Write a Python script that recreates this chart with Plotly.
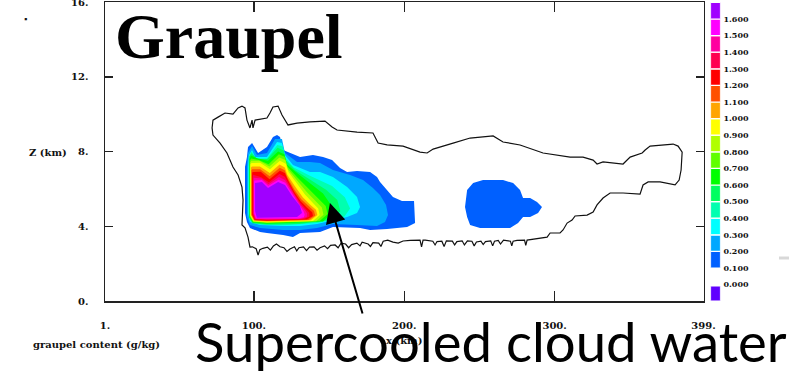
import plotly.graph_objects as go

# ---------------- data ----------------
# colour-bar levels (g/kg) and their tick labels
level_values = [0.0, 0.1, 0.2, 0.3, 0.4, 0.5, 0.6, 0.7, 0.8, 0.9, 1.0, 1.1, 1.2, 1.3, 1.4, 1.5, 1.6]
level_labels = ["0.000", "0.100", "0.200", "0.300", "0.400", "0.500", "0.600", "0.700", "0.800",
                "0.900", "1.000", "1.100", "1.200", "1.300", "1.400", "1.500", "1.600"]

x_tick_vals = [1, 100, 200, 300, 399]
x_tick_text = ["1.", "100.", "200.", "300.", "399."]
z_tick_vals = [0, 4, 8, 12, 16]
z_tick_text = ["0.", "4.", "8.", "12.", "16."]

# filled contour regions (x, z in km) -- one polygon per level
g010_x = [98.8, 100.8, 102.8, 108.7, 112.7, 115.4, 117.4, 119.4, 124.0, 130.7, 139.3, 146.0, 152.0, 157.3,
          162.0, 168.6, 177.3, 181.9, 183.9, 188.6, 192.5, 198.5, 206.5, 207.2, 201.9, 188.6, 177.3, 170.6,
          152.6, 144.0, 130.7, 126.0, 119.4, 108.7, 104.1, 97.4, 95.4, 94.1, 94.1, 95.4, 96.1]
g010_z = [8.45, 8.19, 7.92, 8.24, 8.77, 8.88, 8.77, 8.08, 7.92, 7.70, 7.81, 7.70, 7.54, 7.12,
          6.90, 6.96, 6.90, 6.63, 6.37, 5.94, 5.56, 5.35, 5.35, 4.17, 3.96, 3.85, 3.80, 3.91,
          3.96, 3.69, 3.64, 3.42, 3.53, 3.64, 3.69, 3.91, 4.23, 4.71, 7.17, 7.70, 8.24]
g010b_x = [240.4, 241.8, 245.8, 252.4, 265.7, 272.4, 277.0, 279.0, 283.7, 288.3, 291.6, 289.0, 283.7,
           279.0, 275.7, 270.4, 250.4, 243.8, 241.8]
g010b_z = [5.03, 5.94, 6.31, 6.47, 6.47, 6.31, 5.94, 5.51, 5.51, 5.30, 5.03, 4.71, 4.49,
           4.49, 4.17, 3.91, 3.91, 4.07, 4.49]
g020_x = [98.8, 102.1, 108.7, 114.1, 118.7, 120.7, 128.7, 137.3, 144.0, 152.6, 164.0, 172.6, 179.2, 183.9,
          187.9, 189.2, 187.2, 181.9, 168.6, 152.6, 142.0, 130.7, 119.4, 104.1, 97.4, 95.4, 95.4, 96.1]
g020_z = [8.29, 7.81, 7.92, 8.67, 8.67, 7.92, 7.44, 7.44, 7.38, 7.01, 6.74, 6.47, 6.05, 5.67,
          5.14, 4.60, 4.23, 4.01, 4.07, 4.12, 3.91, 3.80, 3.80, 3.91, 4.07, 4.49, 7.17, 7.92]
g030_x = [98.8, 100.8, 108.7, 115.4, 118.7, 120.7, 126.0, 137.3, 144.0, 152.6, 162.0, 168.6, 170.6, 168.6,
          162.0, 152.6, 142.0, 130.7, 119.4, 104.1, 97.4, 96.1, 96.1, 96.8]
g030_z = [8.08, 7.70, 7.70, 8.51, 8.45, 7.81, 7.28, 6.90, 6.90, 6.63, 6.10, 5.56, 5.03, 4.71,
          4.49, 4.33, 4.12, 4.01, 4.01, 4.07, 4.23, 4.71, 7.17, 7.81]
g040_x = [98.5, 101.6, 108.8, 115.6, 119.2, 121.0, 126.5, 137.3, 152.0, 160.5, 164.0, 160.0, 142.0, 119.4,
          104.1, 97.8, 96.5, 96.5]
g040_z = [8.00, 7.62, 7.62, 8.35, 8.28, 7.65, 7.15, 6.70, 6.15, 5.55, 4.95, 4.50, 4.18, 4.05,
          4.10, 4.30, 4.71, 7.70]
g050_x = [98.3, 102.2, 109.0, 115.8, 119.8, 121.5, 127.5, 137.3, 148.0, 155.5, 157.5, 151.0, 130.0, 108.7,
          99.0, 96.8, 96.8]
g050_z = [7.90, 7.60, 7.60, 8.20, 8.05, 7.50, 7.00, 6.50, 5.95, 5.40, 4.80, 4.35, 4.12, 4.10,
          4.16, 4.45, 7.70]
g060_x = [98.0, 102.8, 109.4, 116.1, 120.3, 122.0, 128.7, 137.3, 146.0, 150.7, 152.0, 146.0, 108.7, 99.4, 97.1, 97.1]
g060_z = [7.78, 7.62, 7.50, 8.00, 7.85, 7.30, 6.85, 6.30, 5.75, 5.20, 4.71, 4.25, 4.14, 4.20, 4.48, 7.60]
g070_x = [98.2, 103.2, 109.8, 116.6, 120.5, 122.3, 128.8, 136.0, 143.0, 147.8, 149.0, 143.8, 108.7, 99.5, 97.3, 97.3]
g070_z = [7.62, 7.55, 7.32, 7.85, 7.72, 7.20, 6.62, 6.05, 5.50, 5.08, 4.66, 4.28, 4.18, 4.23, 4.52, 7.50]
g080_x = [98.3, 103.7, 110.3, 117.0, 120.9, 122.7, 128.8, 135.0, 141.0, 145.2, 146.3, 141.5, 108.7, 99.7, 97.5, 97.5]
g080_z = [7.50, 7.50, 7.20, 7.68, 7.55, 7.05, 6.45, 5.85, 5.35, 5.00, 4.62, 4.27, 4.20, 4.25, 4.55, 7.40]
g090_x = [98.4, 104.1, 110.7, 117.3, 121.2, 123.0, 128.5, 134.0, 139.3, 142.8, 143.8, 139.3, 108.7, 99.9, 97.7, 97.7]
g090_z = [7.38, 7.40, 7.05, 7.50, 7.35, 6.90, 6.30, 5.70, 5.25, 4.95, 4.60, 4.28, 4.22, 4.27, 4.58, 7.30]
g100_x = [98.7, 104.0, 110.6, 117.1, 120.6, 122.2, 127.2, 132.5, 137.5, 141.3, 142.2, 137.8, 108.7, 100.1, 98.1, 98.1]
g100_z = [7.20, 7.20, 6.85, 7.30, 7.15, 6.75, 6.15, 5.55, 5.15, 4.88, 4.60, 4.32, 4.26, 4.30, 4.60, 7.15]
g110_x = [98.9, 104.2, 110.5, 117.2, 120.5, 122.4, 126.7, 131.5, 136.3, 140.0, 140.8, 136.5, 108.7, 100.3, 98.4, 98.4]
g110_z = [7.05, 7.05, 6.68, 7.13, 7.00, 6.60, 6.00, 5.45, 5.10, 4.82, 4.58, 4.34, 4.28, 4.32, 4.60, 7.00]
g120_x = [99.2, 104.6, 110.4, 117.3, 120.6, 122.8, 126.8, 131.0, 135.3, 138.8, 139.3, 135.3, 108.7, 100.5, 98.8, 98.8]
g120_z = [6.90, 6.92, 6.52, 6.97, 6.85, 6.45, 5.85, 5.35, 5.00, 4.75, 4.55, 4.36, 4.30, 4.34, 4.62, 6.85]
g130_x = [99.7, 104.9, 110.0, 117.0, 120.6, 123.4, 127.2, 131.0, 134.5, 136.8, 136.9, 133.0, 108.7, 100.6, 99.4, 99.4]
g130_z = [6.75, 6.62, 6.36, 6.80, 6.65, 6.25, 5.70, 5.25, 4.93, 4.72, 4.52, 4.37, 4.34, 4.37, 4.65, 6.70]
g140_x = [100.0, 105.1, 109.7, 116.7, 120.7, 124.0, 127.8, 131.0, 133.8, 135.4, 135.2, 131.0, 108.7, 101.0, 99.8, 99.8]
g140_z = [6.60, 6.55, 6.25, 6.63, 6.48, 6.05, 5.55, 5.15, 4.88, 4.68, 4.50, 4.39, 4.37, 4.40, 4.68, 6.55]
g150_x = [100.3, 105.3, 109.5, 116.4, 120.8, 124.6, 128.3, 131.0, 133.0, 133.8, 133.2, 129.5, 108.7, 101.4, 100.1, 100.1]
g150_z = [6.45, 6.47, 6.15, 6.49, 6.33, 5.85, 5.40, 5.05, 4.80, 4.62, 4.48, 4.42, 4.40, 4.42, 4.70, 6.40]
g160_x = [100.8, 105.4, 109.4, 116.1, 120.7, 125.4, 130.7, 132.0, 128.7, 108.7, 102.0, 100.8]
g160_z = [6.31, 6.37, 6.05, 6.37, 6.21, 5.62, 5.08, 4.71, 4.49, 4.44, 4.46, 4.82]

# cloud outline (black contour): upper part, right end, ragged base, left side
cloud_x = [72.2, 72.8, 76.2, 80.8, 86.1, 89.5, 92.1, 94.1, 95.4, 97.4, 98.8, 99.4, 100.8, 108.7, 110.7,
           112.7, 116.1, 118.7, 122.7, 128.7, 137.3, 147.3, 152.0, 155.3, 168.6, 179.2, 182.6, 188.6,
           199.2, 210.5, 215.2, 219.2, 232.5, 243.8, 259.1, 265.7, 277.0, 292.3, 310.3, 318.9, 325.6,
           328.2, 332.2, 345.5, 350.2, 358.2, 360.2, 363.5, 378.8, 382.1, 384.8, 384.1, 382.8, 380.1,
           370.1, 362.2, 358.8, 356.8, 345.5, 336.9, 332.2, 328.2, 325.6, 321.6, 313.6, 311.6, 308.3,
           305.6, 303.6, 297.0, 295.0, 290.3,
           284.0, 281.7, 280.8, 280.0, 275.0, 272.4, 271.5, 270.6, 266.0, 264.0, 262.5, 260.0, 258.8,
           257.5, 254.0, 252.5, 251.0, 248.0, 246.5, 245.0, 242.0, 240.0, 238.5, 235.0, 233.5, 232.0,
           228.0, 226.5, 225.0, 221.8, 220.5, 219.0, 214.0, 212.5, 211.5, 210.5, 204.0, 199.2, 196.0,
           192.5, 189.0, 186.0, 184.5, 183.0, 179.2, 177.5, 176.0, 172.0, 170.6, 168.5, 165.0, 163.0,
           161.0, 158.0, 156.0, 154.0, 151.0, 149.0, 147.0, 144.0, 142.0, 140.0, 137.0, 135.0, 133.0,
           130.0, 128.5, 127.0, 124.0, 122.0, 120.0, 117.4, 115.0, 113.0, 111.0, 109.0, 106.0, 104.0,
           102.8, 101.5, 99.0, 97.4,
           96.1, 94.1, 92.1, 92.8, 92.1, 89.5, 86.1, 82.1, 77.5, 72.8, 72.2]
cloud_z = [9.26, 9.68, 9.84, 10.06, 10.00, 10.33, 10.43, 10.33, 9.68, 9.26, 9.68, 9.26, 9.68, 9.79, 10.06,
           10.38, 10.43, 9.95, 9.42, 9.52, 9.58, 9.63, 9.31, 9.15, 9.04, 8.99, 8.45, 8.35,
           8.29, 7.97, 7.92, 8.13, 8.45, 8.72, 8.83, 8.51, 8.35, 7.92, 7.70, 7.70, 7.54,
           7.33, 7.44, 7.33, 7.70, 7.92, 8.08, 8.29, 8.40, 8.29, 7.97, 7.01, 6.47, 6.21,
           6.37, 6.37, 6.21, 5.72, 5.78, 5.78, 5.51, 5.14, 4.76, 4.60, 4.55, 4.33, 4.17,
           3.80, 3.64, 3.64, 3.42, 3.37,
           3.30, 3.26, 2.98, 3.26, 3.24, 3.20, 2.95, 3.20, 3.26, 3.05, 3.24, 3.20, 2.95,
           3.22, 3.18, 3.02, 3.20, 3.16, 2.95, 3.20, 3.22, 3.00, 3.22, 3.18, 3.00, 3.20,
           3.22, 2.92, 3.20, 3.18, 3.00, 3.20, 3.26, 3.26, 2.90, 3.26, 3.24, 3.21, 3.10,
           3.15, 3.26, 3.20, 2.92, 3.10, 3.12, 2.92, 3.05, 3.15, 2.95, 3.10, 3.02, 2.85,
           3.05, 3.10, 2.85, 3.00, 2.98, 2.80, 2.95, 2.85, 2.72, 2.90, 2.88, 2.70, 2.90,
           2.85, 2.68, 2.90, 2.78, 2.65, 2.85, 2.90, 3.05, 2.95, 2.72, 2.88, 2.82, 2.75,
           2.46, 2.80, 2.90, 2.89,
           3.42, 3.91, 4.07, 5.40, 6.10, 6.74, 7.17, 7.92, 8.45, 8.88, 9.26]

# arrow tip (x, z) pointing at the supercooled-water region
arrow_tip_x = 150.6
arrow_tip_z = 5.24

# ---------------- styles ----------------
band_colors = ["#6000FF", "#0060FF", "#00A8FF", "#00FFFF", "#00FFB0", "#00FF60", "#00FF00", "#60FF00",
               "#B0FF00", "#FFFF00", "#FFA500", "#FF5000", "#FF0000", "#FF0050", "#FF00A0", "#FF00FF", "#A000FF"]
SMALL = dict(family="DejaVu Serif", size=10, color="#111", weight="bold")

fig = go.Figure()

polys = [(g010_x, g010_z, 1), (g010b_x, g010b_z, 1), (g020_x, g020_z, 2), (g030_x, g030_z, 3),
         (g040_x, g040_z, 4), (g050_x, g050_z, 5), (g060_x, g060_z, 6), (g070_x, g070_z, 7),
         (g080_x, g080_z, 8), (g090_x, g090_z, 9), (g100_x, g100_z, 10), (g110_x, g110_z, 11),
         (g120_x, g120_z, 12), (g130_x, g130_z, 13), (g140_x, g140_z, 14), (g150_x, g150_z, 15),
         (g160_x, g160_z, 16)]
for px, pz, k in polys:
    fig.add_trace(go.Scatter(x=px, y=pz, mode="lines", fill="toself", fillcolor=band_colors[k],
                             line=dict(width=0, color=band_colors[k]), hoverinfo="skip", showlegend=False))

fig.add_trace(go.Scatter(x=cloud_x, y=cloud_z, mode="lines", line=dict(color="#111", width=1.2),
                         hoverinfo="skip", showlegend=False))

# colour bar drawn as stacked boxes on a secondary axis
cb_base = [v if v > 0 else -0.1 for v in level_values]
cb_height = [0.1 if v > 0 else 0.092 for v in level_values]
fig.add_trace(go.Bar(x=[0] * len(level_values), y=cb_height, base=cb_base, width=1,
                     marker=dict(color=band_colors, line=dict(color="white", width=1.2)),
                     xaxis="x2", yaxis="y2", hoverinfo="skip", showlegend=False))

W, H = 789, 375
L, R, T, B = 105, 0, 2, 74
pw = W - L - R
ph = H - T - B


def xp(px):
    return (px - L) / pw


def yp(py):
    return (H - B - py) / ph


axis_common = dict(showgrid=False, zeroline=False, showline=True, linecolor="#222", linewidth=1.5,
                   mirror="ticks", ticks="inside", tickcolor="#222", tickwidth=1.5, tickfont=SMALL,
                   automargin=False, ticklabeloverflow="allow")

fig.update_layout(
    width=W, height=H,
    margin=dict(l=L, r=R, t=T, b=B, autoexpand=False),
    paper_bgcolor="white", plot_bgcolor="white",
    xaxis=dict(domain=[0, xp(703.5)], range=[1, 399], tickvals=x_tick_vals, ticktext=x_tick_text,
               ticklen=10, ticklabelstandoff=14, **axis_common),
    yaxis=dict(range=[0, 16], tickvals=z_tick_vals, ticktext=z_tick_text, ticklen=8,
               ticklabelstandoff=13, **axis_common),
    xaxis2=dict(domain=[xp(710.5), xp(720.5)], range=[-0.5, 0.5], visible=False, anchor="y2",
                automargin=False),
    yaxis2=dict(domain=[0, 1], range=[-0.0988, 1.7024], anchor="x2", side="right", showgrid=False,
                zeroline=False, showline=False, ticks="", tickvals=level_values, ticktext=level_labels,
                ticklabelstandoff=2, automargin=False, ticklabeloverflow="allow",
                tickfont=dict(family="DejaVu Serif", size=8, color="#111", weight="bold")),
    showlegend=False,
)

fig.add_shape(type="line", xref="paper", yref="paper", x0=xp(779), x1=xp(789), y0=yp(258), y1=yp(258),
              line=dict(color="#d8d8d8", width=3))

ann = [
    dict(text="▪", x=xp(25), y=yp(19), xanchor="center", yanchor="middle",
         font=dict(size=9, color="#111")),
    dict(text="Z (km)", x=xp(69), y=yp(152), xanchor="right", yanchor="middle", font=SMALL),
    dict(text="graupel content (g/kg)", x=xp(31), y=yp(345), xanchor="left", yanchor="middle", font=SMALL),
    dict(text="x (km)", x=xp(404), y=yp(340), xanchor="center", yanchor="middle", font=SMALL),
    dict(text="Graupel", x=xp(113), y=yp(36), xanchor="left", yanchor="middle",
         font=dict(family="Liberation Serif", size=64, color="black", weight="bold")),
    dict(text="Supercooled cloud water", x=xp(193), y=yp(341), xanchor="left", yanchor="middle",
         font=dict(family="Lato", size=54.5, color="black")),
]
for a in ann:
    fig.add_annotation(xref="paper", yref="paper", showarrow=False, **a)

fig.add_annotation(x=arrow_tip_x, y=arrow_tip_z, xref="x", yref="y", text="", showarrow=True,
                   ax=33, ay=112, arrowhead=2, arrowsize=2, arrowwidth=2, arrowcolor="black")

fig.write_html("out.html", config={"displayModeBar": False, "staticPlot": True},
               post_script="document.body.style.margin='0px';document.body.style.overflow='hidden';")
